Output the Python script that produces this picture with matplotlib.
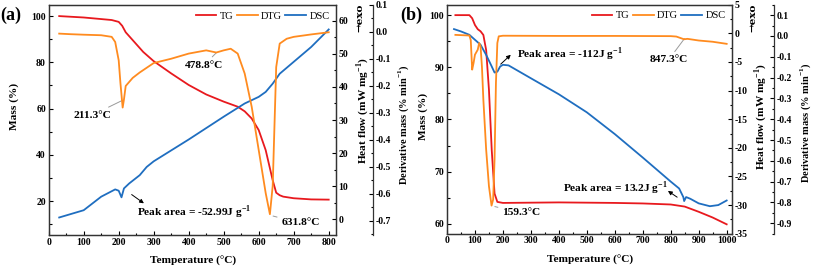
import matplotlib
matplotlib.use("Agg")
import matplotlib.pyplot as plt
from matplotlib.ticker import MultipleLocator

plt.rcParams['font.family'] = ['Liberation Serif', 'DejaVu Serif']
plt.rcParams['mathtext.fontset'] = 'custom'
plt.rcParams['mathtext.rm'] = 'Liberation Serif'
plt.rcParams['mathtext.bf'] = 'Liberation Serif:bold'
plt.rcParams['axes.unicode_minus'] = False

RED = '#E8191E'
ORANGE = '#FF8B1F'
BLUE = '#1F6EC0'

# ---------------- Panel (a) data ----------------
tg_a_T = [30, 100, 180, 200, 210, 220, 240, 270, 300, 350, 400, 450, 500, 540, 560, 580, 600, 620, 640, 650, 660, 670, 700, 750, 800]
tg_a_m = [100, 99.4, 98.3, 97.5, 95.8, 93.0, 89.6, 84.5, 80.5, 75.2, 70.2, 66.1, 63.0, 60.8, 58.8, 55.7, 50.7, 42.0, 29.0, 23.6, 22.5, 21.9, 21.2, 20.7, 20.6]

dtg_a_T = [30, 60, 100, 150, 180, 190, 200, 205, 211.3, 215, 220, 240, 260, 300, 350, 400, 450, 478.8, 500, 520, 540, 560, 580, 600, 620, 632, 640, 645, 650, 660, 680, 700, 750, 800]
dtg_a_d = [-0.006, -0.008, -0.010, -0.012, -0.018, -0.037, -0.105, -0.19, -0.28, -0.25, -0.20, -0.17, -0.15, -0.115, -0.099, -0.080, -0.068, -0.076, -0.068, -0.062, -0.080, -0.154, -0.277, -0.437, -0.597, -0.675, -0.57, -0.35, -0.13, -0.043, -0.025, -0.018, -0.009, -0.001]

dsc_a_T = [30, 100, 150, 190, 200, 208, 215, 230, 260, 280, 300, 400, 500, 560, 600, 620, 640, 660, 700, 750, 800]
dsc_a_h = [0.5, 2.7, 6.8, 9.0, 8.6, 6.6, 9.3, 10.8, 13.3, 15.8, 17.5, 24.1, 31.0, 35.0, 37.0, 38.5, 41.0, 44.0, 47.6, 52.1, 57.4]

# ---------------- Panel (b) data ----------------
tg_b_T = [30, 80, 90, 100, 110, 120, 130, 140, 150, 160, 170, 180, 200, 400, 600, 700, 800, 850, 900, 950, 1000]
tg_b_m = [100, 100, 99.4, 98.1, 97.3, 96.9, 96.2, 93.3, 85.7, 74.1, 65.8, 64.2, 64.0, 64.1, 64.0, 63.9, 63.7, 63.3, 62.3, 61.2, 59.9]

dtg_b_T = [30, 80, 85, 90, 95, 100, 110, 115, 120, 125, 130, 140, 150, 159.3, 165, 170, 175, 180, 185, 200, 400, 600, 800, 820, 847.3, 860, 900, 950, 1000]
dtg_b_d = [0.005, 0.002, -0.02, -0.162, -0.13, -0.09, -0.066, -0.034, -0.05, -0.15, -0.306, -0.546, -0.722, -0.815, -0.786, -0.594, -0.226, -0.034, -0.002, 0.001, 0.0, 0.0, -0.001, -0.003, -0.016, -0.014, -0.022, -0.028, -0.038]

dsc_b_T = [25, 50, 80, 100, 120, 140, 160, 170, 180, 190, 200, 220, 300, 400, 500, 600, 700, 800, 830, 845, 848, 855, 870, 900, 940, 970, 1000]
dsc_b_h = [0.74, 0.33, -0.26, -1.13, -2.0, -3.76, -5.8, -6.85, -6.7, -5.8, -5.5, -5.6, -7.85, -10.65, -13.8, -17.6, -21.7, -25.9, -27.1, -28.6, -29.3, -28.6, -28.9, -29.7, -30.2, -30.0, -29.2]

W, H = 813, 268
fig = plt.figure(figsize=(W / 100, H / 100), dpi=100)

def px_axes(l, t, r, b):
    return fig.add_axes([l / W, 1 - b / H, (r - l) / W, (b - t) / H])

TICK = 7
LAB = 8.2
LW = 1.3

def style(ax):
    ax.tick_params(which='both', direction='in', labelsize=TICK, width=0.8, pad=2)
    ax.tick_params(which='major', length=3)
    ax.tick_params(which='minor', length=1.8)
    for lab in ax.get_xticklabels() + ax.get_yticklabels():
        lab.set_fontweight('bold')

def make_panel(box, xlim, xmaj, mlim, mmaj, hlim, hmaj, hmin, dlim, dmaj, dspine,
               tg, dtg, dsc, coords, letter, letter_xy, exo_xy):
    ax = px_axes(*box)
    ax2 = ax.twinx()
    ax3 = ax.twinx()
    l1, = ax.plot(tg[0], tg[1], color=RED, lw=LW, label='TG')
    l3, = ax2.plot(dsc[0], dsc[1], color=BLUE, lw=LW, label='DSC')
    l2, = ax3.plot(dtg[0], dtg[1], color=ORANGE, lw=LW, label='DTG')
    ax.set_xlim(*xlim)
    ax.set_ylim(*mlim)
    ax2.set_ylim(*hlim)
    ax3.set_ylim(*dlim)
    ax.xaxis.set_major_locator(MultipleLocator(xmaj))
    ax.xaxis.set_minor_locator(MultipleLocator(xmaj / 2))
    ax.yaxis.set_major_locator(MultipleLocator(mmaj))
    ax.yaxis.set_minor_locator(MultipleLocator(mmaj / 2))
    ax2.yaxis.set_major_locator(MultipleLocator(hmaj))
    ax2.yaxis.set_minor_locator(MultipleLocator(hmin))
    ax3.yaxis.set_major_locator(MultipleLocator(dmaj))
    ax3.yaxis.set_minor_locator(MultipleLocator(dmaj / 2))
    ax3.yaxis.set_major_formatter(plt.FuncFormatter(lambda v, p: f"{v:.1f}" if abs(v) > 1e-9 else "0.0"))
    ax3.spines['right'].set_position(('axes', dspine))
    for s in ['left', 'top', 'bottom']:
        ax3.spines[s].set_visible(False)
    for a in (ax, ax2, ax3):
        style(a)
        for s in a.spines.values():
            s.set_linewidth(0.9)
            s.set_color('#333333')
    ax.set_xlabel('Temperature (°C)', fontsize=LAB, fontweight='bold')
    ax.set_ylabel('Mass (%)', fontsize=LAB, fontweight='bold')
    ax2.set_ylabel('Heat flow (mW mg$^{\\mathbf{-1}}$)', fontsize=LAB, fontweight='bold')
    ax3.set_ylabel('Derivative mass (% min$^{\\mathbf{-1}}$)', fontsize=7.5, fontweight='bold')
    ax.xaxis.set_label_coords(*coords[0])
    ax.yaxis.set_label_coords(*coords[1])
    ax2.yaxis.set_label_coords(*coords[2])
    ax3.yaxis.set_label_coords(*coords[3])
    ax3.legend(handles=[l1, l2, l3], loc='upper right', bbox_to_anchor=(1.0, 1.0),
               ncol=3, frameon=False, fontsize=7.5, handlelength=2.0,
               columnspacing=0.35, handletextpad=0.3, borderaxespad=0.2)
    fig.text(letter_xy[0] / W, 1 - letter_xy[1] / H, letter, fontsize=13, fontweight='bold',
             ha='left', va='center')
    fig.text(exo_xy[0] / W, 1 - exo_xy[1] / H, '\u2192exo', fontsize=7.5, fontweight='bold',
             rotation=90, ha='center', va='top', family=['DejaVu Serif'])
    return ax, ax2, ax3

GRAY = '#9a9a9a'
TXT = dict(fontsize=8.2, fontweight='bold')

axa, axa2, axa3 = make_panel(
    (48.7, 5, 335.7, 235), (0, 820), 100, (5.3, 104.8), 20, (-4.8, 64.8), 10, 5,
    (-0.752, 0.1), 0.1, 1.129,
    (tg_a_T, tg_a_m), (dtg_a_T, dtg_a_d), (dsc_a_T, dsc_a_h),
    [(0.503, -0.09), (-0.103, 0.56), (1.066, 0.54), (1.212, 0.48)],
    '(a)', (0, 15), (360, 4))

axa.annotate('211.3°C', xy=(210, 63.5), xytext=(125, 57.2), ha='center', va='center',
             arrowprops=dict(arrowstyle='-', color=GRAY, lw=0.7, shrinkA=1, shrinkB=0), **TXT)
axa.annotate('478.8°C', xy=(480, 84.3), xytext=(444, 78.8), ha='center', va='center',
             arrowprops=dict(arrowstyle='-', color=GRAY, lw=0.7, shrinkA=1, shrinkB=0), **TXT)
axa.annotate('631.8°C', xy=(641, 13.5), xytext=(719, 10.5), ha='center', va='center',
             arrowprops=dict(arrowstyle='-', color=GRAY, lw=0.7, shrinkA=1, shrinkB=0), **TXT)
axa.annotate('', xy=(272, 19.0), xytext=(237, 22.8),
             arrowprops=dict(arrowstyle='-|>', color='black', lw=0.7, mutation_scale=6, shrinkA=0, shrinkB=0))
axa.text(252, 15.2, 'Peak area = -52.99J g$^{\\mathbf{-1}}$', ha='left', va='center', **TXT)

axb, axb2, axb3 = make_panel(
    (447, 4.7, 731.7, 233.7), (0, 1018), 100, (58.1, 102.0), 10, (-35, 5), 5, 2.5,
    (-0.95, 0.15), 0.1, 1.1486,
    (tg_b_T, tg_b_m), (dtg_b_T, dtg_b_d), (dsc_b_T, dsc_b_h),
    [(0.502, -0.095), (-0.066, 0.51), (1.071, 0.51), (1.236, 0.483)],
    '(b)', (400, 15), (753, 4))

axb.annotate('159.3°C', xy=(171, 63.3), xytext=(265, 62.1), ha='center', va='center',
             arrowprops=dict(arrowstyle='-', color=GRAY, lw=0.7, shrinkA=1, shrinkB=0), **TXT)
axb.annotate('847.3°C', xy=(849, 95.5), xytext=(792, 91.4), ha='center', va='center',
             arrowprops=dict(arrowstyle='-', color=GRAY, lw=0.7, shrinkA=1, shrinkB=0), **TXT)
axb.annotate('', xy=(228, 92.4), xytext=(192, 90.6),
             arrowprops=dict(arrowstyle='-|>', color='black', lw=0.7, mutation_scale=6, shrinkA=0, shrinkB=0))
axb.text(250, 92.4, 'Peak area = -112J g$^{\\mathbf{-1}}$', ha='left', va='center', **TXT)
axb.annotate('', xy=(790, 66.3), xytext=(823, 65.1),
             arrowprops=dict(arrowstyle='-|>', color='black', lw=0.7, mutation_scale=6, shrinkA=0, shrinkB=0))
axb.text(415, 66.7, 'Peak area = 13.2J g$^{\\mathbf{-1}}$', ha='left', va='center', **TXT)

fig.savefig('out.png', dpi=100)
